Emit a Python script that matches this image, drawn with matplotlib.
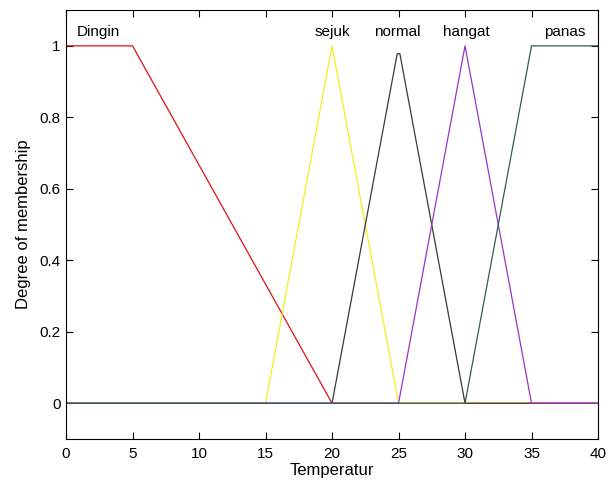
import matplotlib.pyplot as plt
import numpy as np

plt.rcParams['font.family'] = ['Liberation Sans', 'DejaVu Sans']

# membership functions (breakpoints)
names = ['Dingin', 'sejuk', 'normal', 'hangat', 'panas']
dingin_x = [0, 5, 20, 40]
dingin_y = [1, 1, 0, 0]
sejuk_x = [0, 15, 20, 25, 40]
sejuk_y = [0, 0, 1, 0, 0]
normal_x = [0, 20, 24.9, 25.1, 30, 40]
normal_y = [0, 0, 0.978, 0.978, 0, 0]
hangat_x = [0, 25, 30, 35, 40]
hangat_y = [0, 0, 1, 0, 0]
panas_x = [0, 30, 35, 40]
panas_y = [0, 0, 1, 1]
label_x = [2.4, 20, 24.9, 30.1, 37.5]

colors = ['#e01010', '#f0f020', '#3a3a3a', '#9933cc', '#2f5e4e']

fig = plt.figure(figsize=(6.08, 4.82), dpi=100)
ax = fig.add_axes([0.1086, 0.0892, 0.875, 0.8898])

curves = [(dingin_x, dingin_y), (sejuk_x, sejuk_y), (normal_x, normal_y),
          (hangat_x, hangat_y), (panas_x, panas_y)]
for (xs, ys), c in zip(curves, colors):
    ax.plot(xs, ys, color=c, linewidth=0.9)

for name, lx in zip(names, label_x):
    ax.text(lx, 1.04, name, ha='center', va='center', fontsize=11)

ax.set_xlim(0, 40)
ax.set_ylim(-0.1, 1.1)
ax.set_xticks(np.arange(0, 41, 5))
ax.set_yticks([0, 0.2, 0.4, 0.6, 0.8, 1])
ax.set_yticklabels(['0', '0.2', '0.4', '0.6', '0.8', '1'])
ax.tick_params(direction='in', top=True, right=True, length=5, width=0.8, labelsize=11)
ax.tick_params(axis='x', pad=6)
ax.tick_params(axis='y', pad=4)
for s in ax.spines.values():
    s.set_linewidth(0.8)
ax.set_xlabel('Temperatur', fontsize=12, labelpad=1)
ax.set_ylabel('Degree of membership', fontsize=12, labelpad=6)

fig.savefig('out.png', dpi=100)
